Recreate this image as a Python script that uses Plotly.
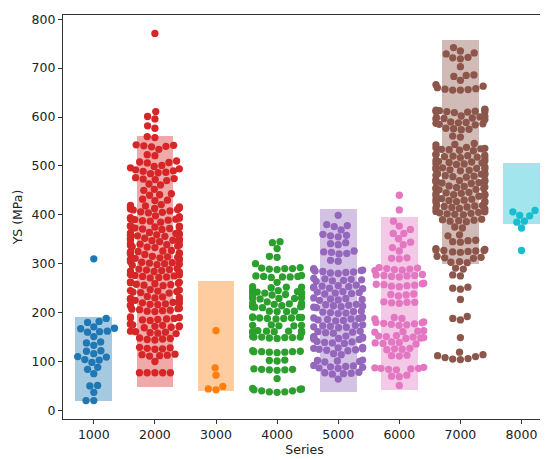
import math
import plotly.graph_objects as go

# ---------------- data ----------------
series = ["1000", "2000", "3000", "4000", "5000", "6000", "7000", "8000"]
colors = ["#1f77b4", "#d62728", "#ff7f0e", "#2ca02c", "#9467bd", "#e377c2", "#8c564b", "#17becf"]

ys_1000 = [310, 188, 182, 180, 171, 168, 167, 162, 161, 160, 151, 140, 138, 133, 122, 121,
           116, 110, 109, 104, 103, 98, 88, 84, 75, 51, 50, 37, 20, 20]

ys_2000 = [771,
           611, 601, 596, 582, 577, 560, 558,
           543, 542, 541, 540, 539, 534,
           523, 521, 510, 508, 507, 506, 501, 499,
           496, 494, 492, 490, 489, 487, 486, 484,
           476, 474, 473, 472, 470, 463, 461, 452, 450,
           443, 441, 440, 432, 430, 429,
           421, 419, 418, 416, 415, 414, 413, 412, 411, 410, 408, 406, 405, 404,
           398, 396, 394, 393, 392, 391, 390, 389, 388, 387, 385,
           378, 377, 376, 375, 374, 373, 372, 371, 370,
           364, 363, 362, 361, 360, 359, 358, 357, 356,
           352, 351, 350, 349, 348, 347, 346, 345,
           341, 340, 339, 338, 337, 336, 335, 334, 333,
           327, 326, 325, 324, 323, 322, 321, 320, 319,
           315, 314, 313, 312, 311, 310, 309, 308,
           304, 303, 302, 301, 300, 299, 298, 297,
           290, 289, 288, 287, 286, 285, 284, 283,
           278, 277, 276, 275, 274, 273, 272, 271,
           263, 262, 261, 260, 259, 258, 257, 256, 255,
           247, 246, 245, 244, 243, 242, 241, 240,
           233, 232, 231, 230, 229, 228, 227, 226, 225,
           221, 220, 219, 218, 217, 216, 215, 214,
           209, 208, 207, 206, 205, 204, 203, 202,
           191, 190, 189, 188, 187, 186, 185, 184,
           177, 176, 175, 174, 173, 172, 171, 170, 169,
           162, 161, 160, 159, 158, 157,
           148, 147, 146, 145, 144,
           129, 128, 127, 126, 125,
           115, 114, 113, 112, 111,
           100,
           77, 77, 77, 77, 77]

ys_3000 = [163, 87, 72, 49, 44, 42]

ys_4000 = [345, 343, 331, 315, 313, 300,
           292, 291, 290, 290, 289, 288,
           276, 275, 274, 274, 273, 273, 272,
           262,
           253, 252, 252, 251,
           246, 245, 244, 243, 242, 241, 240, 239, 238, 237, 236,
           231, 230, 230, 229, 229, 228,
           222, 220, 219, 218, 217,
           214, 213, 213, 212, 212, 211, 210,
           203, 203, 202, 202,
           191, 190, 190, 190, 189, 189, 188, 188, 187,
           175, 174, 174, 173, 173,
           163, 162, 162, 162, 161, 161, 160, 160, 159,
           151, 150, 150, 150, 149, 149, 148, 147,
           122, 121, 120, 120, 120, 119, 119, 118,
           103, 102, 101,
           85, 84, 84, 83, 83, 82,
           65,
           45, 44, 43, 42, 40, 40, 38, 38, 37]

ys_5000 = [399,
           380, 378, 376, 369,
           360, 358, 357, 355,
           343, 341, 339,
           326, 324, 323, 321, 320,
           307, 305,
           290, 288, 287, 286, 285, 284, 283, 282, 281, 280,
           270, 269, 268, 267, 266, 265, 264,
           256, 255, 254, 253, 252, 251, 250, 249,
           243, 242, 241, 240, 239, 238,
           230, 229, 228, 227, 226, 225,
           217, 216, 215, 214, 213, 212, 211, 210,
           203, 202, 201, 200, 199, 198,
           190, 189, 188, 187, 186, 185, 184, 183,
           175, 174, 173, 172, 171, 170, 169,
           162, 161, 160, 159, 158,
           152, 151, 150, 149, 148, 147, 146, 145,
           141, 140, 139, 138, 137,
           129, 128, 127, 126, 125, 124, 123, 122,
           116, 114,
           103, 102, 101, 100, 99,
           92, 91, 90, 89, 88, 87, 86,
           78, 77, 76, 75, 74,
           64]

ys_6000 = [440, 410, 387, 377, 370, 362, 362, 351, 344, 339, 333, 326,
           312, 311, 310,
           292, 291, 290, 289, 288, 287, 286,
           278, 277, 276, 276, 275, 274, 273,
           260, 259, 258, 257, 256, 255, 254, 253,
           238, 237, 236, 234,
           222, 221, 221, 220, 219,
           190, 188, 187,
           181, 180, 179, 178, 177, 176, 175, 174,
           163, 162, 161, 160,
           153, 152, 151, 150, 149, 148, 147,
           140, 139, 138, 137, 136,
           127, 126, 125, 124,
           113, 112, 111,
           88, 87, 86, 86, 85, 84, 83,
           72, 70, 69,
           51]

ys_7000 = [742, 735, 731, 729, 722, 721, 719, 703, 686, 685, 683, 675,
           666, 663, 660, 658, 657, 656, 655, 655,
           616, 615, 614, 613, 612, 611, 611, 610, 610, 609,
           602, 601, 600, 599, 598, 597, 596, 595,
           590, 589, 588, 587, 586, 585, 584,
           577, 576, 575, 574,
           561, 559,
           546, 544, 543,
           538, 537, 536, 535, 534, 533, 532, 531,
           524, 523, 522, 521, 520, 519, 518, 517, 516,
           511, 510, 509, 508, 507, 506, 505, 504, 503,
           498, 497, 496, 495, 494, 493, 492, 491, 490,
           485, 484, 483, 482, 481, 480, 479, 478, 477,
           472, 471, 470, 469, 468, 467, 466, 465, 464,
           459, 458, 457, 456, 455, 454, 453, 452, 451,
           446, 445, 444, 443, 442, 441, 440, 439, 438,
           433, 432, 431, 430, 429, 428, 427, 426, 425,
           420, 419, 418, 417, 416, 415, 414, 413, 412,
           407, 406, 405, 404, 403, 402, 401, 400,
           391, 390, 389, 388, 387, 386,
           375, 373, 359, 357,
           348, 347, 345, 344,
           331, 329, 328, 327, 327, 326, 325, 324, 323,
           315, 313, 312, 311,
           304, 303, 302,
           291, 289,
           277, 275,
           252, 250, 248,
           227,
           192, 188, 185,
           149,
           119,
           114, 112, 110, 108, 106, 105, 104]

ys_8000 = [409, 406, 399, 398, 387, 385, 373, 327]

all_ys = [ys_1000, ys_2000, ys_3000, ys_4000, ys_5000, ys_6000, ys_7000, ys_8000]

# shaded ranges (no range for 4000)
rect_series = ["1000", "2000", "3000", "5000", "6000", "7000", "8000"]
rect_low = [20, 47, 40, 37, 41, 300, 381]
rect_high = [190, 561, 265, 412, 396, 758, 506]

# ---------------- layout constants ----------------
# the page body adds an 8px offset, so the figure is 8px smaller than the window
W, H = 540, 452
ML, MR, MT, MB = 55, 2, 7, 41
XR = [-0.504, 7.401]
YR = [-17.6, 808.6]
PLOT_W = W - ML - MR
PLOT_H = H - MT - MB
PPX = PLOT_W / (XR[1] - XR[0])
PPY = PLOT_H / (YR[1] - YR[0])
RAD = 3.69
HALF = 0.4


def swarm_offsets(vals):
    """seaborn-style beeswarm, computed in pixel space, returned in x data units."""
    ys = [v * PPY for v in vals]
    order = sorted(range(len(vals)), key=lambda i: ys[i])
    placed = []
    xs = [0.0] * len(vals)
    d2 = (2 * RAD) ** 2
    for idx in order:
        y = ys[idx]
        neighbors = []
        for xj, yj in reversed(placed):
            if y - yj < 2 * RAD:
                neighbors.append((xj, yj))
            else:
                break
        cands = [0.0]
        left_first = True
        for xj, yj in neighbors:
            dy = y - yj
            dx = math.sqrt(max(d2 - dy * dy, 0)) * 1.05
            cands += [xj - dx, xj + dx] if left_first else [xj + dx, xj - dx]
            left_first = not left_first
        cands.sort(key=abs)
        chosen = cands[0]
        if neighbors:
            for c in cands:
                if all((xj - c) ** 2 + (yj - y) ** 2 >= d2 - 1e-9 for xj, yj in neighbors):
                    chosen = c
                    break
        placed.append((chosen, y))
        xs[idx] = chosen
    return [max(-HALF, min(HALF, x / PPX)) for x in xs]


fig = go.Figure()

rect_x = [series.index(s) for s in rect_series]
rect_col = [colors[series.index(s)] for s in rect_series]
fig.add_trace(go.Bar(
    x=rect_x,
    y=[h - l for l, h in zip(rect_low, rect_high)],
    base=rect_low,
    width=0.6,
    marker=dict(color=rect_col, opacity=0.4, line=dict(width=0)),
    showlegend=False,
    hoverinfo="skip",
))

for i, (name, vals) in enumerate(zip(series, all_ys)):
    offs = swarm_offsets(vals)
    fig.add_trace(go.Scatter(
        x=[i + o for o in offs],
        y=vals,
        mode="markers",
        marker=dict(color=colors[i], size=7.3, line=dict(width=0)),
        name=name,
        showlegend=False,
    ))

axis_common = dict(
    showline=True, linecolor="#333333", linewidth=1.2, mirror=True,
    ticks="outside", ticklen=4, tickwidth=1, tickcolor="#333333",
    showgrid=False, zeroline=False,
    tickfont=dict(family="DejaVu Sans", size=12.5, color="#222222"),
)

fig.update_layout(
    width=W, height=H,
    margin=dict(l=ML, r=MR, t=MT, b=MB),
    plot_bgcolor="white", paper_bgcolor="white",
    bargap=0,
    xaxis=dict(range=XR, tickmode="array", tickvals=list(range(len(series))), ticktext=series,
               title=dict(text="Series", font=dict(family="DejaVu Sans", size=12.5, color="#222222"), standoff=4),
               **axis_common),
    yaxis=dict(range=YR, tickmode="array", tickvals=[0, 100, 200, 300, 400, 500, 600, 700, 800],
               title=dict(text="YS (MPa)", font=dict(family="DejaVu Sans", size=12.5, color="#222222"), standoff=6),
               **axis_common),
)

fig.write_html("out.html")
